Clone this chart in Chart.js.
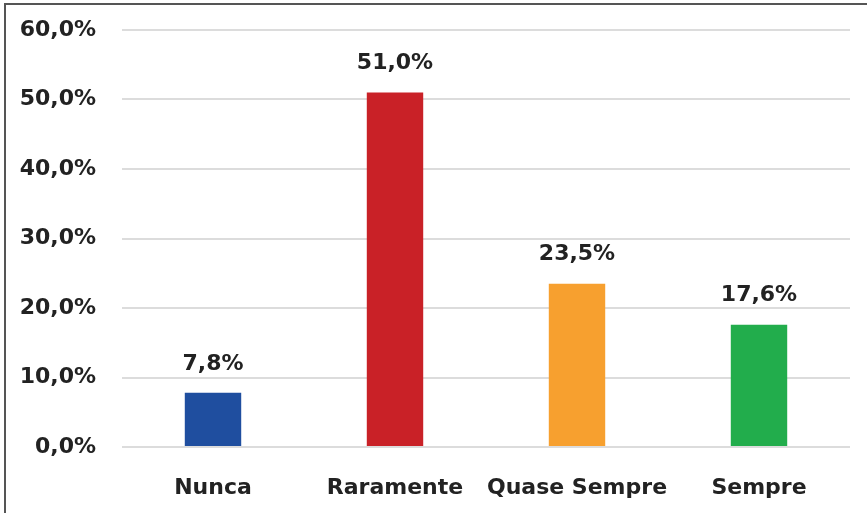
<!DOCTYPE html>
<html>
<head>
<meta charset="utf-8">
<script src="https://cdn.jsdelivr.net/npm/chart.js@4/dist/chart.umd.min.js"></script>
<style>
  html, body { margin: 0; padding: 0; background: #fff; }
  #wrap { position: relative; width: 867px; height: 513px; overflow: hidden; }
  #frame { position: absolute; left: 4px; top: 3px; width: 880px; height: 540px;
           border-left: 2px solid #555; border-top: 2px solid #555; pointer-events: none; }
  canvas { position: absolute; left: 0; top: 0; }
</style>
</head>
<body>
<div id="wrap">
  <canvas id="c" width="867" height="513"></canvas>
  <div id="frame"></div>
</div>
<script>
const categories = ["Nunca", "Raramente", "Quase Sempre", "Sempre"];
const values = [7.8, 51.0, 23.5, 17.6];
const barColors = ["#1F4E9F", "#C92127", "#F7A02F", "#22AD4C"];
const yTicks = [0, 10, 20, 30, 40, 50, 60];

const fmt = v => v.toFixed(1).replace('.', ',') + '%';
const FONT = "'DejaVu Sans', 'Noto Sans', sans-serif";

const labelPlugin = {
  id: 'valueLabels',
  afterDatasetsDraw(chart) {
    const ctx = chart.ctx;
    const meta = chart.getDatasetMeta(0);
    ctx.save();
    ctx.font = "bold 22px " + FONT;
    ctx.fillStyle = "#222";
    ctx.textAlign = "center";
    ctx.textBaseline = "middle";
    meta.data.forEach((bar, i) => {
      ctx.fillText(fmt(values[i]), bar.x, bar.y - 29);
    });
    ctx.restore();
  }
};

new Chart(document.getElementById('c'), {
  type: 'bar',
  data: {
    labels: categories,
    datasets: [{
      data: values,
      backgroundColor: barColors,
      borderWidth: 0,
      categoryPercentage: 0.31,
      barPercentage: 1.0
    }]
  },
  options: {
    responsive: false,
    animation: false,
    layout: { padding: { left: 0, right: 17, top: 30, bottom: 0 } },
    plugins: { legend: { display: false }, tooltip: { enabled: false } },
    scales: {
      x: {
        grid: { display: false, drawTicks: false },
        border: { display: false },
        ticks: { color: "#222", font: { family: FONT, size: 22, weight: 'bold' }, padding: 28,
                 maxRotation: 0, minRotation: 0, autoSkip: false },
        afterFit(scale) { scale.height = 66; scale.paddingLeft = 0; scale.paddingRight = 0; }
      },
      y: {
        min: 0, max: 60,
        afterBuildTicks(scale) { scale.ticks = yTicks.map(v => ({ value: v })); },
        grid: { color: "#dcdcdc", lineWidth: 2, drawTicks: false },
        border: { display: false },
        ticks: {
          color: "#222",
          font: { family: FONT, size: 22, weight: 'bold' },
          padding: 26,
          callback: v => fmt(v)
        },
        afterFit(scale) { scale.width = 122; scale.paddingTop = 0; scale.paddingBottom = 0; }
      }
    }
  },
  plugins: [labelPlugin]
});
</script>
</body>
</html>
